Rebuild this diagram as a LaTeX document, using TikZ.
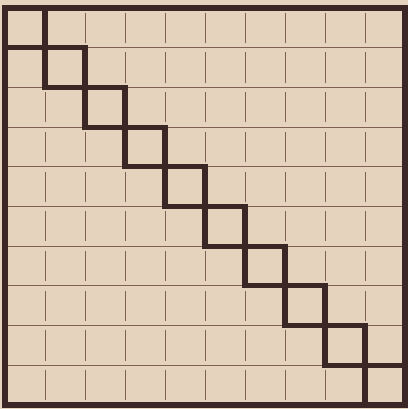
\documentclass[tikz,border=0pt]{standalone}
\usepackage{tikz}
\usepackage{xcolor}
\definecolor{paper}{RGB}{229,211,189}
\definecolor{ink}{RGB}{58,38,36}
\definecolor{rulecol}{RGB}{128,96,84}

\begin{document}
\begin{tikzpicture}[x=1cm, y=-0.9925cm,
  gridline/.style={rulecol, line width=0.7pt},
  heavy/.style={ink, line width=3.6pt, line join=miter}]
  % Paper and margins (408x409 px, 40 px per cell)
  \fill[paper] (-0.125cm,0.2cm) rectangle (10.075cm,-10.025cm);
  \useasboundingbox (-0.125cm,0.2cm) rectangle (10.075cm,-10.025cm);

  % Thin rules: rows run through, columns stop short of each row
  \foreach \j in {1,...,9}
    \draw[gridline] (0,\j) -- (10,\j);
  \foreach \i in {1,...,9}
    \foreach \j in {0,...,9}
      \draw[gridline] (\i,\j+0.12) -- (\i,\j+0.88);

  % Outer frame
  \draw[heavy] (0,0) rectangle (10,10);

  % Cells on the diagonal
  \foreach \k in {0,...,9}
    \draw[heavy] (\k,\k) rectangle (\k+1,\k+1);
\end{tikzpicture}
\end{document}
